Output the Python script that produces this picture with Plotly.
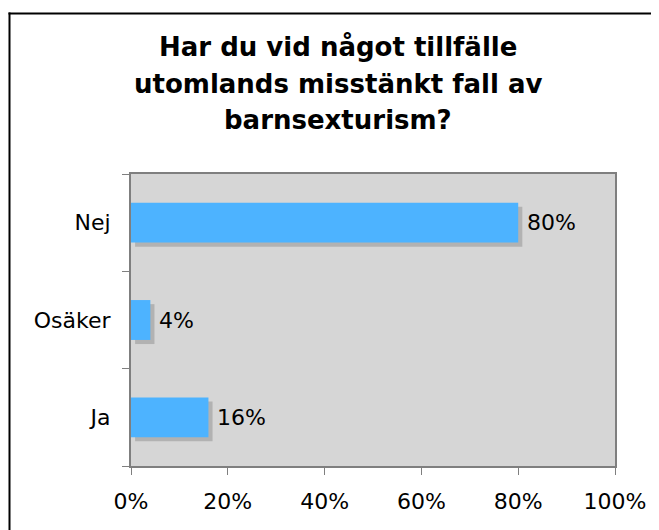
import plotly.graph_objects as go

categories = ["Ja", "Osäker", "Nej"]
values = [16, 4, 80]
labels = ["16%", "4%", "80%"]
x_ticks = [0, 20, 40, 60, 80, 100]
x_tick_labels = ["0%", "20%", "40%", "60%", "80%", "100%"]
title_lines = ["Har du vid något tillfälle", "utomlands misstänkt fall av", "barnsexturism?"]

FONT = "DejaVu Sans"
BAR_W = 0.41
SH_X = 0.85   # shadow x shift (data units)
SH_Y = 0.042  # shadow y shift (category units)

# plot area target in screen pixels (page has 8px body margin)
PX_L, PX_R, PX_T, PX_B = 131, 615, 174, 466
PW, PH = PX_R - PX_L, PX_B - PX_T


def px(xp):
    return (xp - PX_L) / PW


def py(yp):
    return (PX_B - yp) / PH


fig = go.Figure()
# shadow
fig.add_trace(go.Bar(
    y=categories, x=values, base=SH_X, orientation="h",
    width=BAR_W, offset=-BAR_W / 2 - SH_Y,
    marker=dict(color="#b2b2b2", line=dict(width=0)),
    hoverinfo="skip", showlegend=False,
))
# main bars
fig.add_trace(go.Bar(
    y=categories, x=values, orientation="h",
    width=BAR_W, offset=-BAR_W / 2,
    marker=dict(color="#4db3ff", line=dict(width=0)),
    showlegend=False,
))

for c, v, t in zip(categories, values, labels):
    fig.add_annotation(x=v, y=c, text=t, xanchor="left", yanchor="middle",
                       xshift=7, showarrow=False,
                       font=dict(family=FONT, size=22, color="#000"))

for yp, line in zip([47, 84, 120], title_lines):
    fig.add_annotation(
        xref="paper", yref="paper", x=px(338), y=py(yp),
        xanchor="center", yanchor="middle", showarrow=False,
        text=f"<b>{line}</b>",
        font=dict(family=FONT, size=26, color="#000"),
    )

# outer frame: left and top edges only (the rest lies outside the view)
fig.add_shape(type="line", xref="paper", yref="paper",
              x0=px(9.5), x1=px(9.5), y0=py(540), y1=py(12.5),
              line=dict(color="#000", width=2), layer="below")
fig.add_shape(type="line", xref="paper", yref="paper",
              x0=px(8.5), x1=px(680), y0=py(13.5), y1=py(13.5),
              line=dict(color="#000", width=2), layer="below")

fig.update_layout(
    width=651, height=522,
    margin=dict(l=PX_L - 8, r=651 - (PX_R - 8), t=PX_T - 8, b=522 - (PX_B - 8)),
    paper_bgcolor="white", plot_bgcolor="#d6d6d6",
    barmode="overlay",
    font=dict(family=FONT, size=22, color="#000"),
)
fig.update_xaxes(
    range=[0, 100], tickvals=x_ticks, ticktext=x_tick_labels,
    showgrid=False, zeroline=False,
    showline=True, mirror=True, linecolor="#7f7f7f", linewidth=2,
    ticks="outside", ticklen=7, tickcolor="#7f7f7f", tickwidth=1,
    tickfont=dict(family=FONT, size=22), ticklabelstandoff=8,
    fixedrange=True,
)
fig.update_yaxes(
    categoryorder="array", categoryarray=categories, range=[-0.5, 2.5],
    showgrid=False, zeroline=False,
    showline=True, mirror=True, linecolor="#7f7f7f", linewidth=2,
    ticks="outside", tickson="boundaries", ticklen=7, tickcolor="#7f7f7f", tickwidth=1,
    tickfont=dict(family=FONT, size=22), ticklabelstandoff=14,
    fixedrange=True,
)

fig.write_html("out.html", post_script="document.body.style.overflow='hidden';")
